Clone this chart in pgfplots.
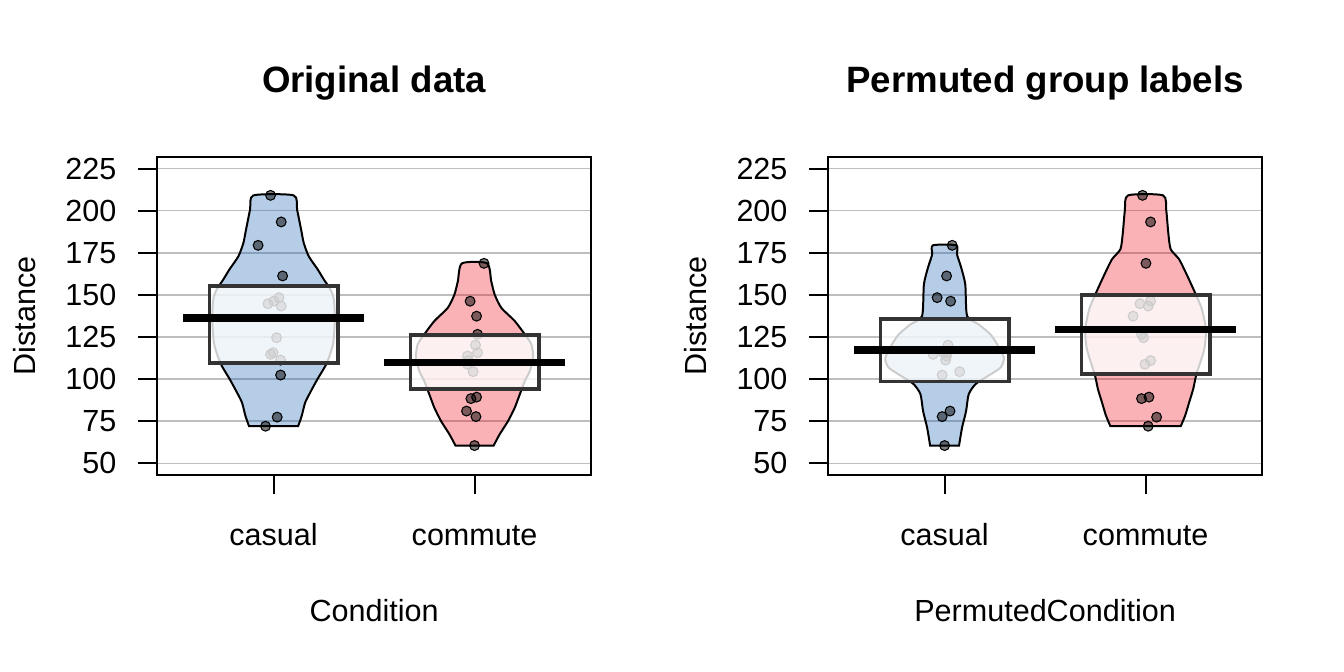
\documentclass[border=0pt]{standalone}
\usepackage{fontspec}
\setmainfont{Liberation Sans}
\usepackage{pgfplots}
\pgfplotsset{compat=1.18}

\definecolor{pblue}{HTML}{0C5BB0}
\definecolor{pred}{HTML}{EE0011}
\definecolor{boxgray}{HTML}{333333}
\definecolor{gridgray}{HTML}{BEBEBE}

\pgfplotsset{
  pirate/.style={
    scale only axis, width=163.4pt, height=119.7pt,
    xmin=0.42, xmax=2.58, ymin=43, ymax=232,
    xtick={1,2}, ytick={50,75,100,125,150,175,200,225},
    tick pos=left, tick align=outside, major tick length=7.2pt,
    every tick/.style={black, line width=0.75pt},
    axis line style={line width=0.75pt},
    ymajorgrids, grid style={gridgray, line width=0.5pt},
    clip marker paths=true,
    /pgf/number format/assume math mode=true,
    ticklabel style={font=\fontsize{11.5}{13}\selectfont},
    yticklabel style={anchor=east, inner sep=0pt, xshift=-7.86pt},
    xticklabel style={anchor=base, inner sep=0pt, yshift=-19.4pt},
    label style={font=\fontsize{11.5}{13}\selectfont},
    xlabel style={at={([yshift=-55.2pt]axis description cs:0.5,0)}, anchor=base, inner sep=0pt},
    ylabel style={at={([xshift=-45.9pt]axis description cs:0,0.5)}, anchor=base, inner sep=0pt},
    every axis title shift=0pt,
    title style={at={([yshift=24.35pt]axis description cs:0.5,1)}, anchor=base, inner sep=0pt, font=\fontsize{13.8}{16}\selectfont\bfseries},
    ylabel={Distance},
    xticklabels={casual,commute},
  },
  bean/.style={draw=black, line width=0.75pt, fill=#1, fill opacity=0.3, draw opacity=1, smooth, tension=0.4},
  pts/.style={only marks, mark=*, mark size=1.85pt, mark options={draw=none, fill=black, fill opacity=0.5}},
  inf/.style={draw=boxgray, line width=1.25pt, fill=white, fill opacity=0.8, draw opacity=1},
  avg/.style={black, line width=2.7pt, line cap=butt},
}

\begin{document}
\begin{tikzpicture}
\useasboundingbox (0,0) rectangle (505.89pt,252.95pt);

% ---------------- Original data ----------------
\begin{axis}[pirate, at={(59.1pt,74.15pt)}, anchor=south west,
  title={Original data}, xlabel={Condition}]
% beans
\addplot[bean=pblue] coordinates {
(0.878,72.0) (0.860,78.1) (0.843,86.0) (0.818,92.0) (0.782,99.9) (0.743,107.7) (0.722,113.7) (0.703,121.6) (0.695,135.5) (0.700,147.3) (0.717,153.3) (0.750,159.2) (0.780,165.1) (0.825,173.0) (0.850,181.0) (0.863,188.9) (0.883,200.7) (0.900,209.2)
(1.100,209.2) (1.117,200.7) (1.137,188.9) (1.150,181.0) (1.175,173.0) (1.220,165.1) (1.250,159.2) (1.283,153.3) (1.300,147.3) (1.305,135.5) (1.297,121.6) (1.278,113.7) (1.257,107.7) (1.218,99.9) (1.182,92.0) (1.157,86.0) (1.140,78.1) (1.122,72.0)
} -- cycle;
\addplot[bean=pred] coordinates {
(1.905,60.5) (1.875,67.2) (1.833,75.1) (1.800,83.0) (1.775,90.9) (1.750,98.8) (1.725,104.8) (1.708,112.7) (1.717,120.6) (1.750,126.6) (1.800,134.5) (1.867,142.4) (1.900,150.3) (1.917,158.2) (1.9375,168.8)
(2.0625,168.8) (2.083,158.2) (2.100,150.3) (2.133,142.4) (2.200,134.5) (2.250,126.6) (2.283,120.6) (2.292,112.7) (2.275,104.8) (2.250,98.8) (2.225,90.9) (2.200,83.0) (2.167,75.1) (2.125,67.2) (2.095,60.5)
} -- cycle;
% points
\addplot[pts] table {
x y
0.985 209.2
1.038 193.4
0.923 179.5
1.045 161.3
1.027 148.4
1.002 146.4
0.972 144.8
1.038 143.4
1.015 124.6
0.998 115.7
0.985 114.7
1.035 111.3
1.035 102.4
1.018 77.4
0.960 72.0
};
\addplot[pts] table {
x y
2.047 168.8
1.978 146.3
2.010 137.4
2.015 126.6
2.005 120.2
2.015 115.7
1.965 113.7
1.970 111.0
1.965 108.8
1.993 104.4
2.010 89.3
1.982 88.4
1.960 81.0
2.007 77.7
2.000 60.5
};
% inference bands
\addplot[inf] coordinates {(0.68,109.5) (1.32,109.5) (1.32,155.4) (0.68,155.4)} -- cycle;
\addplot[inf] coordinates {(1.68,94.1) (2.32,94.1) (2.32,126.3) (1.68,126.3)} -- cycle;
% averages
\addplot[avg] coordinates {(0.55,136.3) (1.45,136.3)};
\addplot[avg] coordinates {(1.55,109.9) (2.45,109.9)};
\end{axis}

% ---------------- Permuted ----------------
\begin{axis}[pirate, at={(311.67pt,74.15pt)}, anchor=south west,
  title={Permuted group labels}, xlabel={PermutedCondition}]
\addplot[bean=pblue] coordinates {
(0.928,60.5) (0.913,71.2) (0.893,81.0) (0.880,91.0) (0.847,96.9) (0.797,100.9) (0.722,106.8) (0.705,112.7) (0.738,120.6) (0.772,126.6) (0.830,132.5) (0.888,137.5) (0.897,156.2) (0.917,166.1) (0.938,174.0) (0.942,179.5)
(1.058,179.5) (1.062,174.0) (1.083,166.1) (1.103,156.2) (1.112,137.5) (1.170,132.5) (1.228,126.6) (1.262,120.6) (1.295,112.7) (1.278,106.8) (1.203,100.9) (1.153,96.9) (1.120,91.0) (1.107,81.0) (1.087,71.2) (1.072,60.5)
} -- cycle;
\addplot[bean=pred] coordinates {
(1.825,72.0) (1.803,78.3) (1.783,86.2) (1.763,94.1) (1.747,102.8) (1.708,117.8) (1.700,129.7) (1.720,141.6) (1.750,150.3) (1.792,161.3) (1.833,171.2) (1.875,177.2) (1.887,187.0) (1.897,200.3) (1.913,209.2)
(2.087,209.2) (2.103,200.3) (2.113,187.0) (2.125,177.2) (2.167,171.2) (2.208,161.3) (2.250,150.3) (2.280,141.6) (2.300,129.7) (2.292,117.8) (2.253,102.8) (2.237,94.1) (2.217,86.2) (2.197,78.3) (2.175,72.0)
} -- cycle;
\addplot[pts] table {
x y
1.038 179.5
1.010 161.3
0.963 148.4
1.030 146.3
1.017 120.2
0.993 115.7
1.010 115.7
0.943 114.7
1.010 113.7
1.005 111.3
1.075 104.4
0.988 102.4
1.027 81.0
0.988 77.7
1.000 60.5
};
\addplot[pts] table {
x y
1.985 209.2
2.025 193.4
2.002 168.8
2.025 146.4
1.972 144.8
2.013 143.4
1.938 137.4
1.980 126.6
1.990 124.6
2.025 111.0
1.997 108.8
2.017 89.3
1.980 88.4
2.055 77.4
2.013 72.0
};
\addplot[inf] coordinates {(0.68,98.7) (1.32,98.7) (1.32,135.8) (0.68,135.8)} -- cycle;
\addplot[inf] coordinates {(1.68,103.0) (2.32,103.0) (2.32,149.9) (1.68,149.9)} -- cycle;
\addplot[avg] coordinates {(0.55,117.3) (1.45,117.3)};
\addplot[avg] coordinates {(1.55,129.3) (2.45,129.3)};
\end{axis}
\end{tikzpicture}
\end{document}
